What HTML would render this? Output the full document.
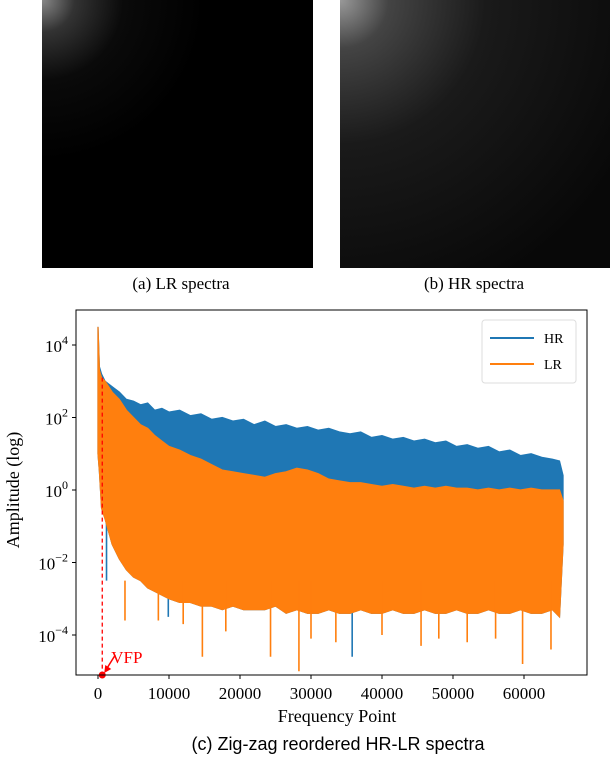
<!DOCTYPE html>
<html><head><meta charset="utf-8"><style>
body{margin:0;background:#fff;width:610px;height:756px;overflow:hidden;font-family:"Liberation Serif",serif}
</style></head><body>
<svg id="fig" width="610" height="756" viewBox="0 0 610 756" xmlns="http://www.w3.org/2000/svg">
<defs>
<radialGradient id="lrg" cx="0" cy="0" r="0.6"><stop offset="0" stop-color="#888"/><stop offset="0.2" stop-color="#333"/><stop offset="0.5" stop-color="#0a0a0a"/><stop offset="1" stop-color="#000"/></radialGradient>
<radialGradient id="hrg" cx="0" cy="0" r="1.2"><stop offset="0" stop-color="#999"/><stop offset="0.15" stop-color="#444"/><stop offset="0.45" stop-color="#1a1a1a"/><stop offset="1" stop-color="#080808"/></radialGradient>
</defs>
<g><rect x="42" y="0" width="271" height="268" fill="#000"/><rect x="42" y="0" width="271" height="268" fill="url(#lrg)"/></g>
<text x="181" y="289" font-size="17" text-anchor="middle">(a) LR spectra</text>
<g><rect x="340" y="0" width="270" height="268" fill="#000"/><rect x="340" y="0" width="270" height="268" fill="url(#hrg)"/></g>
<text x="474" y="289" font-size="17" text-anchor="middle">(b) HR spectra</text>
<g id="chart"></g>
<text x="338" y="750" font-size="18" text-anchor="middle" font-family="Liberation Sans, sans-serif">(c) Zig-zag reordered HR-LR spectra</text>
</svg>
<script>
const freqs=[0,200,500,1000,2000,3000,4000,5000,6000,7000,8000,9000,10000,11500,13000,14500,16000,17500,19000,20500,22000,23500,25000,26500,28000,29500,31000,32500,34000,35500,37000,38500,40000,41500,43000,44500,46000,47500,49000,50500,52000,53500,55000,56500,58000,59500,61000,62500,64000,65000,65500];
const hrTop=[4.5,3.4,3.2,3.0,2.85,2.7,2.5,2.45,2.35,2.4,2.2,2.25,2.15,2.2,2.05,2.1,1.95,2.0,1.9,1.95,1.8,1.9,1.75,1.8,1.7,1.75,1.65,1.7,1.6,1.55,1.6,1.45,1.5,1.4,1.45,1.35,1.4,1.3,1.35,1.2,1.25,1.15,1.2,1.05,1.1,0.95,1.0,0.9,0.85,0.8,0.4];
const lrTop=[4.5,3.3,3.1,3.0,2.7,2.5,2.2,2.0,1.8,1.7,1.5,1.35,1.2,1.1,0.95,0.85,0.7,0.55,0.5,0.45,0.4,0.35,0.45,0.5,0.6,0.55,0.45,0.3,0.25,0.2,0.2,0.15,0.1,0.15,0.1,0.05,0.1,0.05,0.1,0.05,0.05,0.0,0.05,0.0,0.05,0.0,0.05,0.0,0.0,0.0,-0.3];
const lrBottom=[1.0,0.5,-0.5,-0.8,-1.5,-1.9,-2.2,-2.4,-2.5,-2.7,-2.8,-2.9,-3.0,-3.1,-3.1,-3.2,-3.2,-3.3,-3.2,-3.3,-3.3,-3.3,-3.2,-3.4,-3.3,-3.4,-3.4,-3.3,-3.4,-3.4,-3.3,-3.4,-3.4,-3.3,-3.4,-3.4,-3.3,-3.4,-3.4,-3.3,-3.4,-3.4,-3.3,-3.4,-3.4,-3.3,-3.4,-3.4,-3.3,-3.5,-1.5];
const lrSpikeX=[3800,8500,12000,14700,18000,24300,28300,30000,33500,40000,45500,48000,52000,56000,59800,63800];
const lrSpikeVal=[-3.6,-3.6,-3.7,-4.6,-3.9,-4.6,-5.0,-4.1,-4.2,-4.0,-4.3,-4.1,-4.2,-4.1,-4.8,-4.4];
const hrSpikeX=[1200,9900,35800];
const hrSpikeVal=[-0.5,-3.5,-4.6];
const xTicks=[0,10000,20000,30000,40000,50000,60000];
const yTicks=[4,2,0,-2,-4];
const vfp=600;

const NS="http://www.w3.org/2000/svg";
const g=document.getElementById('chart');
const L=76,R=587,T=310,B=675;
const X=f=>98+f*(524-98)/60000;
const Y=l=>490-l*36.25;
function mk(t,a,p){const e=document.createElementNS(NS,t);for(const k in a)e.setAttribute(k,a[k]);(p||g).appendChild(e);return e;}
const clip=mk('clipPath',{id:'pc'});mk('rect',{x:L,y:T,width:R-L,height:B-T},clip);
const plot=mk('g',{'clip-path':'url(#pc)'});


function band(top,bot,color,name){
  let pts=freqs.map((f,i)=>X(f)+','+Y(top[i]));
  for(let i=freqs.length-1;i>=0;i--)pts.push(X(freqs[i])+','+Y(bot[i]));
  const p=mk('polygon',{points:pts.join(' '),fill:color,stroke:color,'stroke-width':1.2,'stroke-linejoin':'miter'},plot);
  
  
}
function spikes(xs,vs,color,name){
  xs.forEach((f,i)=>{
    const l=mk('line',{x1:X(f),x2:X(f),y1:Y(-2.5),y2:Y(vs[i]),stroke:color,'stroke-width':1.6},plot);
    
    
  });
}
const hrBottom=lrBottom.map(v=>v);
band(hrTop,hrBottom,'#1f77b4','hr-series');
spikes(hrSpikeX,hrSpikeVal,'#1f77b4','hr-spike');
band(lrTop,lrBottom,'#ff7f0e','lr-series');
spikes(lrSpikeX,lrSpikeVal,'#ff7f0e','lr-spike');
const vl=mk('line',{x1:X(vfp),x2:X(vfp),y1:Y(3.1),y2:B,stroke:'#ff0000','stroke-width':1.3,'stroke-dasharray':'4,3'});


const vd=mk('circle',{cx:X(vfp),cy:B,r:3.5,fill:'#ff0000'});


const va=mk('path',{d:`M${X(vfp)+13},${B-20} L${X(vfp)+3},${B-4}`,stroke:'#ff0000','stroke-width':1.5,fill:'none'});


const vh=mk('path',{d:`M${X(vfp)+2},${B-2} l1,-8 l6,4 z`,fill:'#ff0000'});


const vt=mk('text',{x:X(vfp)+9,y:B-12,'font-size':17,fill:'#ff0000'});vt.textContent='VFP';


const fr=mk('rect',{x:L,y:T,width:R-L,height:B-T,fill:'none',stroke:'#000','stroke-width':1});


xTicks.forEach(v=>{
  const t=mk('line',{x1:X(v),x2:X(v),y1:B,y2:B+4,stroke:'#000'});
  
  
  const s=mk('text',{x:X(v),y:B+24,'font-size':17,'text-anchor':'middle'});s.textContent=v;
  
  
});
yTicks.forEach(v=>{
  const t=mk('line',{x1:L-4,x2:L,y1:Y(v),y2:Y(v),stroke:'#000'});
  
  
  const s=mk('text',{x:L-8,y:Y(v)+7,'font-size':17,'text-anchor':'end'});
  
  
  const a=document.createElementNS(NS,'tspan');a.textContent='10';s.appendChild(a);
  const b=document.createElementNS(NS,'tspan');b.setAttribute('dy','-8');b.setAttribute('font-size','12');b.textContent=(v<0?'\u2212'+(-v):v);s.appendChild(b);
});
const xl=mk('text',{x:337,y:722,'font-size':18,'text-anchor':'middle'});xl.textContent='Frequency Point';


const yl=mk('text',{x:0,y:0,'font-size':18,'text-anchor':'middle',transform:'translate(19,490) rotate(-90)'});yl.textContent='Amplitude (log)';


const lg=mk('g',{});


mk('rect',{x:482,y:320,width:94,height:63,rx:3,fill:'#fff',stroke:'#ddd'},lg);
[['HR','#1f77b4',338],['LR','#ff7f0e',364]].forEach(([n,c,y])=>{
  const e=mk('g',{},lg);
  
  
  mk('line',{x1:490,x2:534,y1:y,y2:y,stroke:c,'stroke-width':2},e);
  const t=mk('text',{x:544,y:y+5,'font-size':14},e);t.textContent=n;
});
</script>
</body></html>
